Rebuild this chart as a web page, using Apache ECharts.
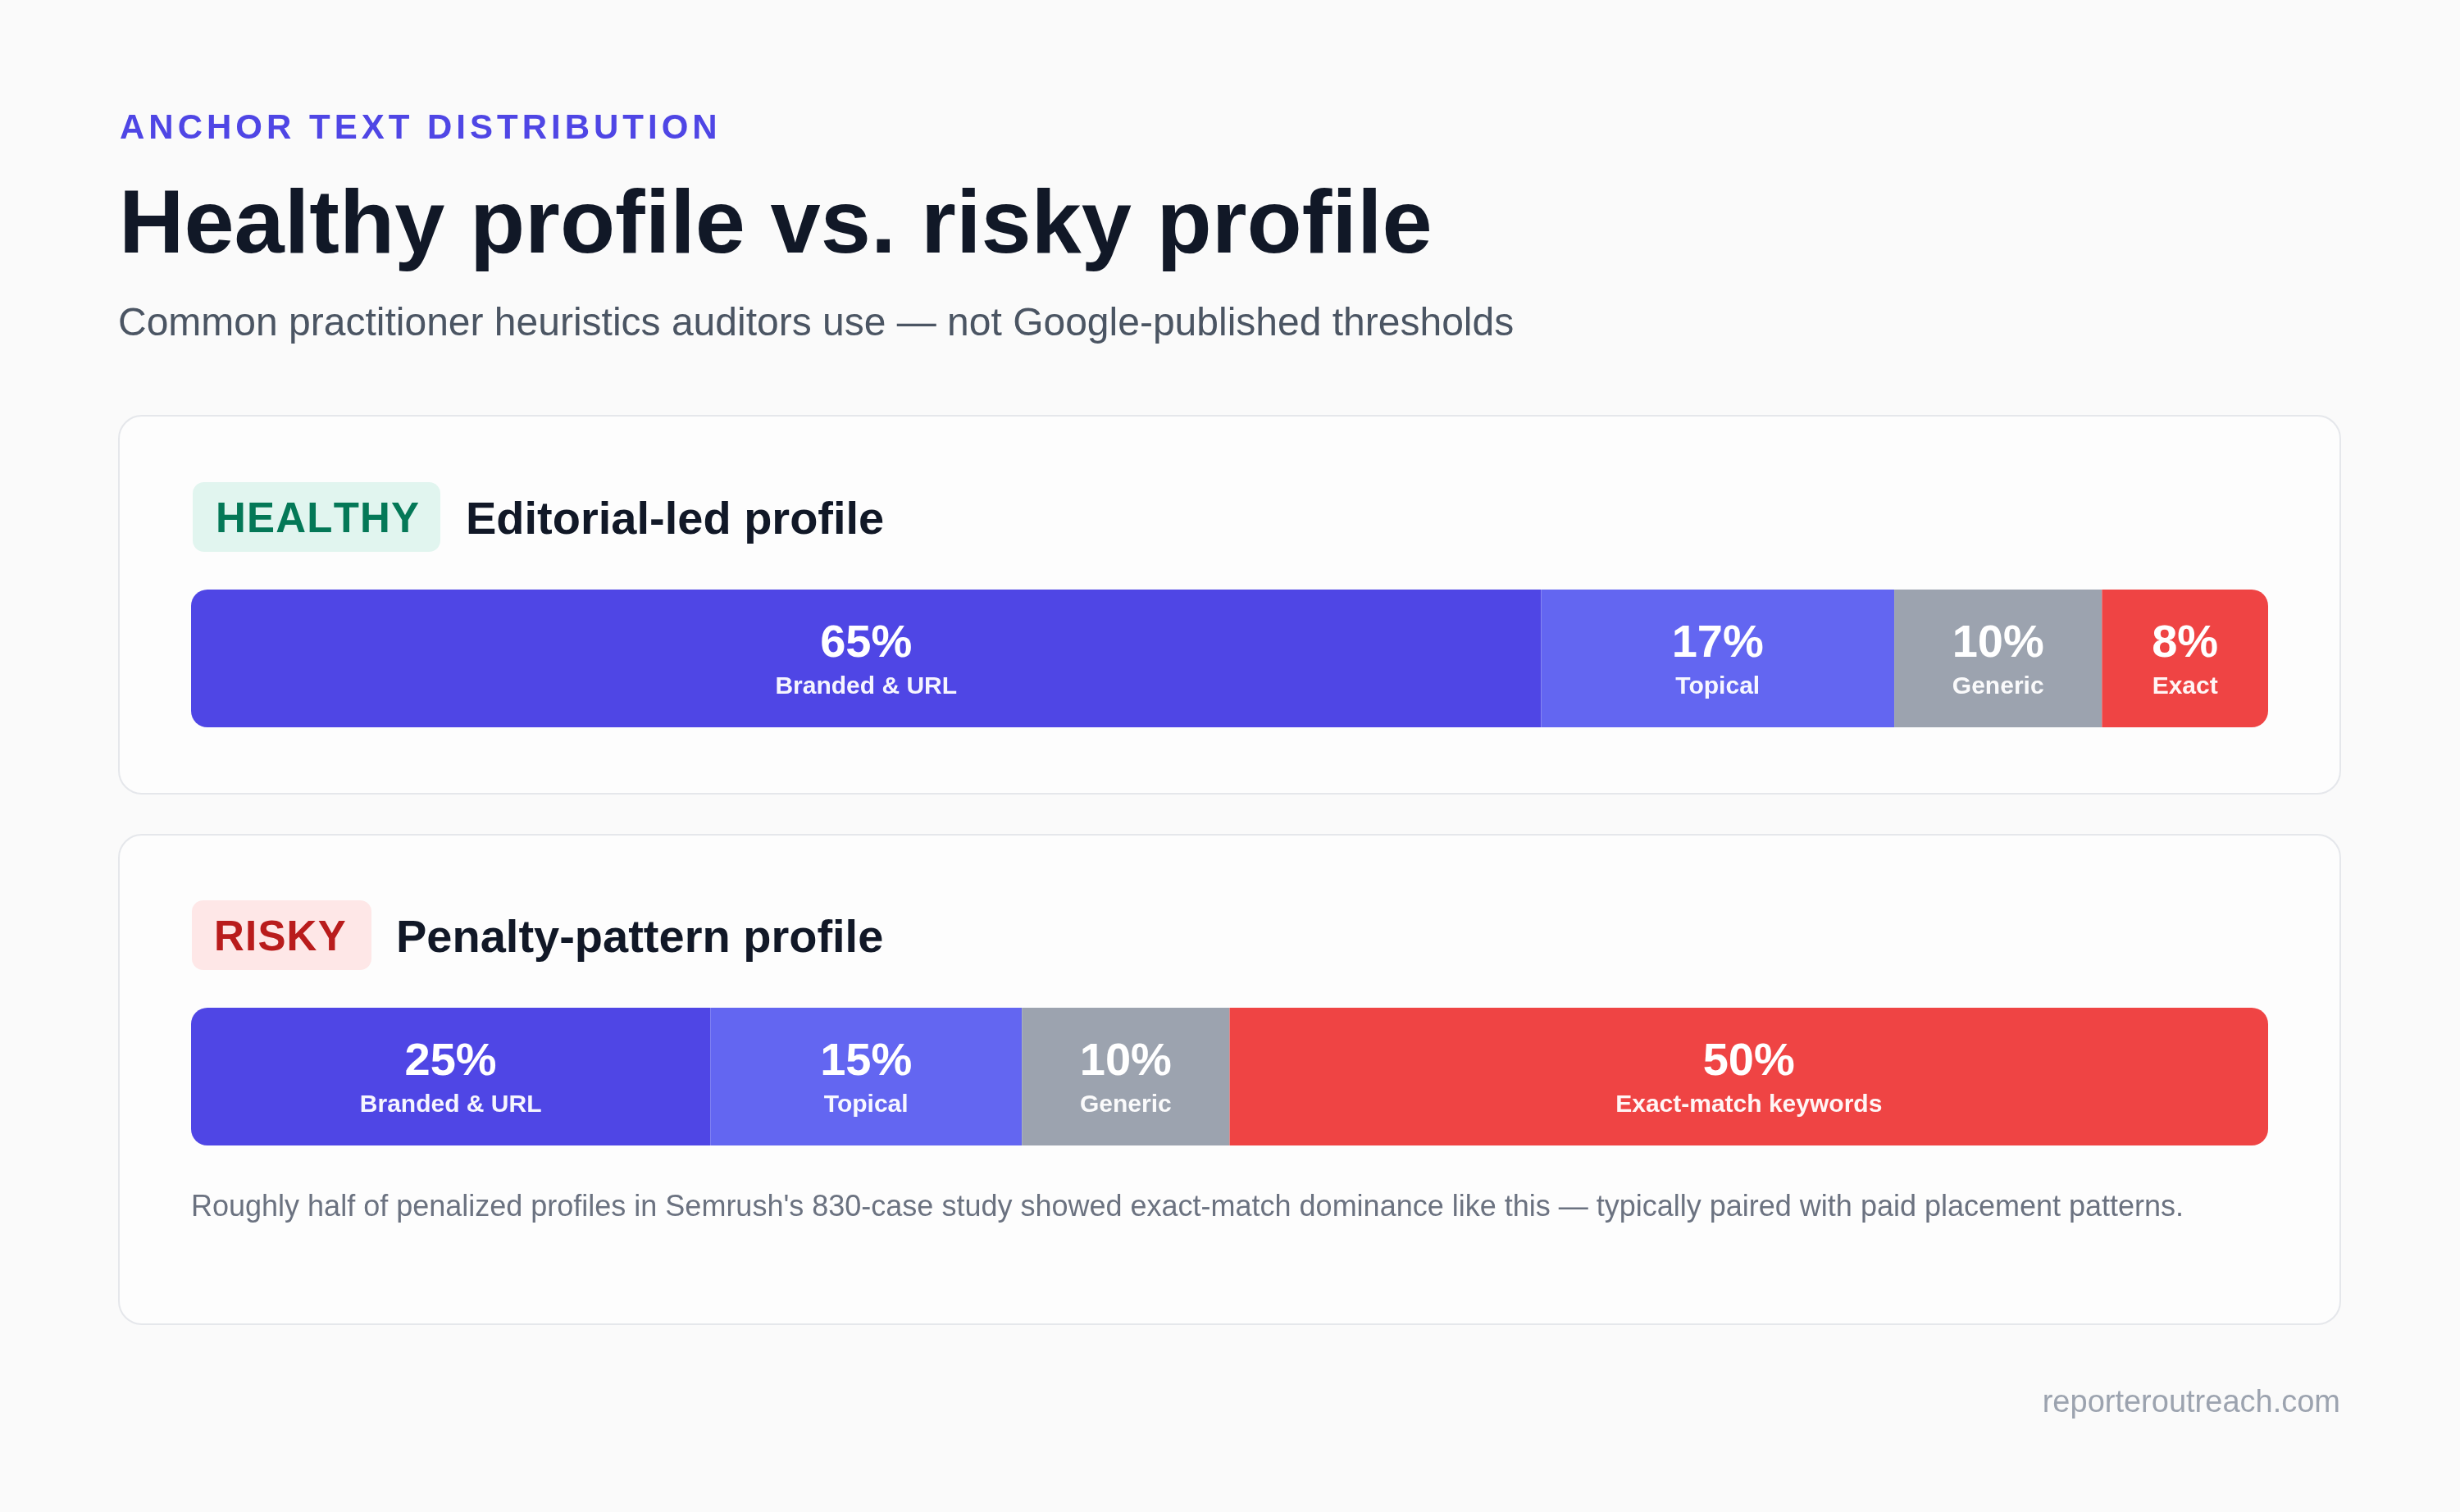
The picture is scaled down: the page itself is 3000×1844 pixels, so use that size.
<!DOCTYPE html>
<html>
<head>
<meta charset="utf-8">
<script src="https://cdn.jsdelivr.net/npm/echarts@6/dist/echarts.min.js"></script>
<style>
html,body{margin:0;padding:0;background:#fafafa;}
#chart{width:3000px;height:1844px;}
</style>
</head>
<body>
<div id="chart"></div>
<script>
// ---- Data ----
const eyebrow = 'ANCHOR TEXT DISTRIBUTION';
const title = 'Healthy profile vs. risky profile';
const subtitle = 'Common practitioner heuristics auditors use \u2014 not Google-published thresholds';

const healthyBadge = 'HEALTHY';
const healthyTitle = 'Editorial-led profile';
const healthyLabels = ['Branded & URL', 'Topical', 'Generic', 'Exact'];
const healthyValues = [65, 17, 10, 8];

const riskyBadge = 'RISKY';
const riskyTitle = 'Penalty-pattern profile';
const riskyLabels = ['Branded & URL', 'Topical', 'Generic', 'Exact-match keywords'];
const riskyValues = [25, 15, 10, 50];

const segmentColors = ['#4f46e5', '#6366f1', '#9ca3af', '#ef4444'];

const note = "Roughly half of penalized profiles in Semrush's 830-case study showed exact-match dominance like this \u2014 typically paired with paid placement patterns.";
const footer = 'reporteroutreach.com';

// ---- Helpers ----
const FONT = '"Liberation Sans", Arial, Helvetica, sans-serif';
const measureCtx = document.createElement('canvas').getContext('2d');

function spacedText(str, x, y, size, weight, spacing, color) {
  const font = weight + ' ' + size + 'px ' + FONT;
  measureCtx.font = font;
  const els = [];
  let cx = x;
  for (const ch of str) {
    els.push({
      type: 'text', z: 10, silent: true,
      style: { text: ch, x: cx, y: y, font: font, fill: color,
        align: 'left', verticalAlign: 'middle', textAlign: 'left', textVerticalAlign: 'middle' }
    });
    cx += measureCtx.measureText(ch).width + spacing;
  }
  return els;
}

function plainText(str, x, y, size, weight, color, align) {
  const font = weight + ' ' + size + 'px ' + FONT;
  return {
    type: 'text', z: 10, silent: true,
    style: { text: str, x: x, y: y, font: font, fill: color,
      align: align || 'left', verticalAlign: 'middle',
      textAlign: align || 'left', textVerticalAlign: 'middle' }
  };
}

function makeSeries(values, labels, gridIndex, stackId) {
  const last = values.length - 1;
  return values.map((v, i) => ({
    type: 'bar',
    name: labels[i],
    stack: stackId,
    xAxisIndex: gridIndex,
    yAxisIndex: gridIndex,
    barWidth: 168,
    silent: true,
    data: [v],
    itemStyle: {
      color: segmentColors[i],
      borderRadius: i === 0 ? [20, 0, 0, 20] : (i === last ? [0, 20, 20, 0] : 0)
    },
    label: {
      show: true,
      position: 'inside',
      formatter: '{v|' + v + '%}\n{n|' + labels[i] + '}',
      rich: {
        v: { fontFamily: FONT, fontSize: 56, fontWeight: 'bold', color: '#ffffff', lineHeight: 70, align: 'center' },
        n: { fontFamily: FONT, fontSize: 30, fontWeight: 'bold', color: 'rgba(255,255,255,0.95)', lineHeight: 34, align: 'center' }
      }
    }
  }));
}

// ---- Layout graphics ----
const graphics = [];
// cards
graphics.push({ type: 'rect', z: 0, silent: true,
  shape: { x: 145, y: 507, width: 2709, height: 461, r: 28 },
  style: { fill: '#fdfdfd', stroke: '#e5e7eb', lineWidth: 2 } });
graphics.push({ type: 'rect', z: 0, silent: true,
  shape: { x: 145, y: 1018, width: 2709, height: 597, r: 28 },
  style: { fill: '#fdfdfd', stroke: '#e5e7eb', lineWidth: 2 } });

// header
graphics.push(...spacedText(eyebrow, 146, 157, 42, 'bold', 5, '#4f46e5'));
graphics.push(plainText(title, 145, 278, 110, 'bold', '#111827'));
graphics.push(plainText(subtitle, 144, 396, 48, 'normal', '#4b5563'));

// healthy card header
graphics.push({ type: 'rect', z: 5, silent: true,
  shape: { x: 235, y: 588, width: 302, height: 85, r: 14 },
  style: { fill: '#e1f5ef' } });
graphics.push(...spacedText(healthyBadge, 263, 635, 51, 'bold', 1.2, '#047857'));
graphics.push(plainText(healthyTitle, 568, 636, 56, 'bold', '#111827'));

// risky card header
graphics.push({ type: 'rect', z: 5, silent: true,
  shape: { x: 234, y: 1098, width: 219, height: 85, r: 14 },
  style: { fill: '#fee7e7' } });
graphics.push(...spacedText(riskyBadge, 261, 1145, 51, 'bold', 1.2, '#b91c1c'));
graphics.push(plainText(riskyTitle, 483, 1146, 56, 'bold', '#111827'));

// note + footer
graphics.push(plainText(note, 233, 1473, 36, 'normal', '#6b7280'));
graphics.push(plainText(footer, 2854, 1712, 38, 'normal', '#9ca3af', 'right'));

// ---- Chart ----
const chart = echarts.init(document.getElementById('chart'), null, { renderer: 'canvas', width: 3000, height: 1844 });
chart.setOption({
  backgroundColor: '#fafafa',
  animation: false,
  grid: [
    { left: 233, right: 234, top: 719, height: 168, containLabel: false },
    { left: 233, right: 234, top: 1229, height: 168, containLabel: false }
  ],
  xAxis: [
    { type: 'value', min: 0, max: 100, show: false, gridIndex: 0 },
    { type: 'value', min: 0, max: 100, show: false, gridIndex: 1 }
  ],
  yAxis: [
    { type: 'category', data: ['Healthy'], show: false, gridIndex: 0 },
    { type: 'category', data: ['Risky'], show: false, gridIndex: 1 }
  ],
  graphic: { elements: graphics },
  series: [
    ...makeSeries(healthyValues, healthyLabels, 0, 'healthy'),
    ...makeSeries(riskyValues, riskyLabels, 1, 'risky')
  ]
});
</script>
</body>
</html>
